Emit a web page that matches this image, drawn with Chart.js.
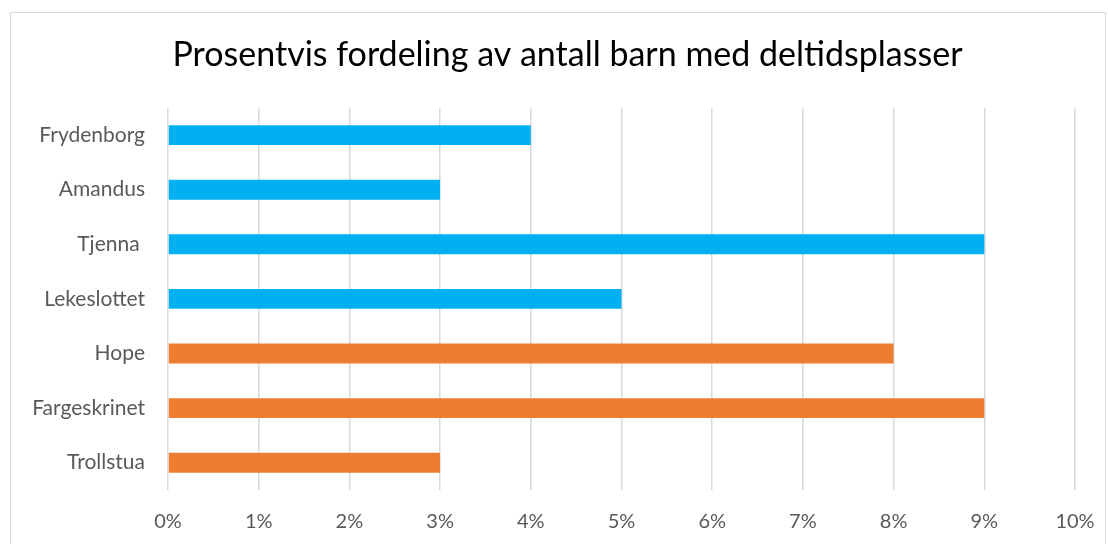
<!DOCTYPE html>
<html lang="no">
<head>
  <meta charset="UTF-8">
  <title>Prosentvis fordeling av antall barn med deltidsplasser</title>
  <script src="https://cdn.jsdelivr.net/npm/chart.js"></script>
  <style>
    html, body {
      margin: 0;
      padding: 0;
      background: #fff;
      overflow: hidden;
    }
    #ramme {
      position: absolute;
      left: 10px;
      top: 12px;
      width: 1094px;
      height: 600px;
      border: 1px solid #d9d9d9;
    }
    #boks {
      position: absolute;
      left: 0;
      top: 0;
      width: 1108px;
      height: 544px;
    }
  </style>
</head>
<body>
<div id="ramme"></div>
<div id="boks"><canvas id="grafico"></canvas></div>

<script>
const barnehager = ["Frydenborg", "Amandus", "Tjenna ", "Lekeslottet", "Hope", "Fargeskrinet", "Trollstua"];
const andel = [4, 3, 9, 5, 8, 9, 3];
const farger = ["#00B0F0", "#00B0F0", "#00B0F0", "#00B0F0", "#ED7D31", "#ED7D31", "#ED7D31"];
const tittel = "Prosentvis fordeling av antall barn med deltidsplasser";

const fontNavn = "Lato, 'Open Sans', sans-serif";

const ctx = document.getElementById("grafico").getContext("2d");
new Chart(ctx, {
  type: "bar",
  data: {
    labels: barnehager,
    datasets: [{
      data: andel,
      backgroundColor: farger,
      borderWidth: 0,
      categoryPercentage: 1,
      barPercentage: 0.365
    }]
  },
  options: {
    indexAxis: "y",
    responsive: true,
    maintainAspectRatio: false,
    animation: false,
    // venstre padding flytter tittelen mot midten slik som i Excel
    layout: { padding: { left: 27, right: 0, top: 0, bottom: 0 } },
    plugins: {
      legend: { display: false },
      tooltip: { enabled: false },
      title: {
        display: true,
        text: tittel,
        color: "#000000",
        font: { family: fontNavn, size: 34, weight: "normal" },
        padding: { top: 35, bottom: 32 }
      }
    },
    scales: {
      x: {
        min: 0,
        max: 10,
        ticks: {
          stepSize: 1,
          color: "#595959",
          font: { family: fontNavn, size: 20 },
          padding: 20,
          callback: v => v + "%"
        },
        grid: { color: "#d9d9d9", lineWidth: 1.5, drawTicks: false },
        border: { display: false },
        afterFit: s => { s.height = 54; s.paddingLeft = 0; s.paddingRight = 33; }
      },
      y: {
        ticks: {
          color: "#595959",
          font: { family: fontNavn, size: 21 },
          padding: 23
        },
        grid: { display: false, drawTicks: false },
        border: { display: false },
        afterFit: s => { s.width = 141; }
      }
    }
  }
});
</script>
</body>
</html>
